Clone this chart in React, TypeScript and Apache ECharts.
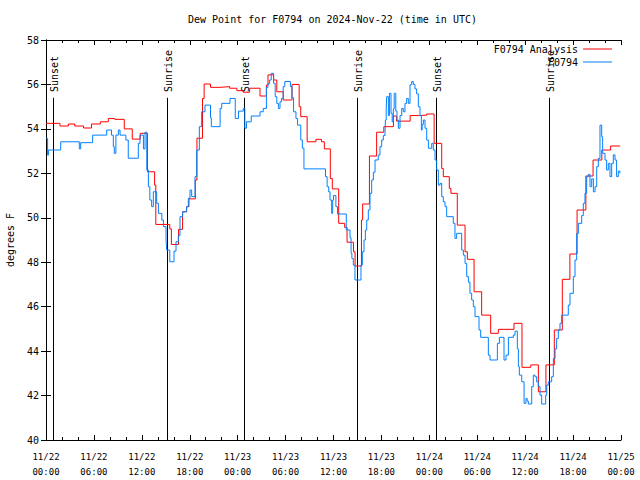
import React, { useEffect, useRef } from 'react';
import * as echarts from 'echarts';

const TITLE = 'Dew Point for F0794 on 2024-Nov-22 (time in UTC)';
const Y_NAME = 'degrees F';
const START_UTC = Date.UTC(2024, 10, 22, 0, 0);
const X_MIN_H = 0;
const X_MAX_H = 72;
const X_STEP_H = 6;
const Y_MIN = 40;
const Y_MAX = 58;
const Y_STEP = 2;

const SERIES_RED = 'F0794 Analysis';
const SERIES_BLUE = 'F0794';

// [hours since 2024-11-22 00:00 UTC, dew point °F]
const redPoints: [number, number][] = [
  [0, 54.25], [1.75, 54.13], [2.8, 54.22], [3.6, 54.13], [4.7, 54.04], [5.7, 54.22],
  [6.8, 54.32], [7.8, 54.47], [8.6, 54.43], [9.8, 54.0], [10.8, 53.54], [11.8, 53.8],
  [12.7, 52.07], [13.6, 51.47], [13.75, 49.7], [15.5, 49.5], [15.7, 48.8], [16.6, 49.48],
  [17.1, 50.27], [17.6, 50.5], [17.9, 50.85], [18.7, 51.7], [18.9, 53.58], [19.6, 55.37],
  [19.8, 56.02], [20.6, 55.87], [21.8, 55.9], [23.0, 55.83], [23.9, 55.72], [24.7, 55.65],
  [25.5, 55.83], [26.8, 55.48], [27.6, 55.97], [27.8, 56.43], [28.5, 56.2], [28.9, 55.67],
  [29.7, 55.3], [30.8, 56.0], [31.7, 55.0], [31.9, 54.55], [32.7, 53.42], [33.8, 53.53],
  [34.5, 53.42], [34.85, 53.1], [35.6, 51.77], [35.85, 51.3], [36.65, 49.75], [37.4, 49.57],
  [37.7, 48.9], [38.5, 48.47], [38.7, 47.83], [39.5, 49.9], [39.65, 50.62], [40.5, 52.78],
  [41.4, 53.85], [42.3, 54.1], [43.5, 54.58], [43.9, 54.35], [45.6, 54.6], [46.8, 54.62],
  [47.67, 54.67], [48.6, 53.35], [49.55, 52.22], [49.75, 51.85], [50.5, 51.32], [50.7, 51.1],
  [51.5, 49.67], [52.47, 48.47], [52.76, 48.13], [53.6, 46.67], [54.55, 45.62], [55.68, 44.8],
  [56.64, 44.98], [58.6, 45.25], [59.6, 43.27], [60.7, 43.38], [61.65, 42.17], [62.6, 43.38],
  [63.65, 44.95], [64.65, 47.23], [65.6, 48.37], [66.5, 50.35], [67.6, 51.88], [68.5, 52.6],
  [69.6, 53.05], [70.7, 53.23], [71.9, 53.2]
];

const bluePoints: [number, number][] = [
  [0.0, 53.58], [0.2, 52.82], [0.3, 53.05], [1.84, 53.42], [4.17, 53.1], [4.34, 53.38],
  [5.84, 53.72], [7.6, 53.95], [8.2, 53.72], [8.43, 53.2], [8.55, 52.9], [8.75, 53.72],
  [9.06, 53.95], [9.27, 53.72], [10.0, 53.5], [10.3, 52.68], [11.56, 53.35], [11.77, 53.72],
  [12.2, 53.1], [12.4, 53.85], [12.62, 52.15], [12.82, 51.4], [13.0, 50.8], [13.23, 50.5],
  [13.44, 51.17], [13.86, 50.65], [14.07, 50.2], [14.5, 49.9], [14.7, 49.6], [15.03, 49.0],
  [15.11, 48.55], [15.5, 48.02], [16.03, 48.5], [16.28, 48.92], [16.57, 49.2], [16.78, 50.05],
  [17.11, 50.27], [17.61, 50.5], [17.82, 50.88], [18.03, 51.25], [18.24, 50.95], [18.66, 51.85],
  [18.87, 53.05], [19.2, 54.1], [19.49, 54.77], [19.91, 55.07], [20.6, 54.5], [20.7, 54.1],
  [21.8, 54.92], [22.0, 55.15], [23.04, 55.37], [23.7, 54.47], [24.1, 54.8], [24.7, 54.92],
  [24.9, 54.03], [25.1, 54.32], [25.7, 54.58], [26.8, 54.77], [27.2, 54.92], [27.6, 55.87],
  [27.8, 56.03], [28.0, 56.2], [28.2, 56.5], [28.5, 56.05], [28.7, 55.45], [28.9, 55.15],
  [29.1, 54.92], [29.3, 55.22], [29.5, 55.37], [29.7, 55.9], [29.9, 56.13], [30.6, 55.9],
  [30.8, 55.4], [31.0, 54.77], [31.3, 54.47], [31.5, 54.17], [31.9, 53.5], [32.1, 53.13],
  [32.3, 52.2], [35.0, 51.85], [35.2, 51.4], [35.4, 51.17], [35.56, 50.8], [35.77, 50.2],
  [35.9, 50.8], [36.0, 51.0], [36.3, 50.5], [36.5, 50.17], [37.6, 49.45], [38.07, 49.1],
  [38.2, 48.4], [38.3, 48.17], [38.48, 47.87], [38.69, 47.2], [39.44, 47.87], [39.61, 48.47],
  [39.82, 49.0], [39.99, 49.45], [40.16, 49.9], [40.36, 50.35], [40.57, 51.1], [40.78, 51.7],
  [40.99, 52.05], [41.2, 52.6], [41.6, 52.82], [41.82, 53.2], [42.03, 53.5], [42.24, 53.7],
  [42.45, 53.85], [42.5, 54.4], [42.6, 54.9], [42.66, 55.45], [42.87, 54.6], [43.0, 55.6],
  [43.2, 54.7], [43.35, 54.32], [43.49, 54.9], [43.6, 55.6], [43.8, 54.8], [43.95, 54.4],
  [44.12, 54.03], [44.33, 54.6], [44.54, 54.92], [44.74, 54.77], [44.95, 55.15], [45.16, 55.37],
  [45.37, 55.15], [45.58, 55.98], [45.79, 56.13], [45.99, 56.0], [46.2, 55.8], [46.41, 55.58],
  [46.62, 55.0], [46.83, 54.6], [47.0, 53.95], [47.1, 54.2], [47.25, 54.4], [47.46, 54.03],
  [47.67, 53.5], [47.88, 53.13], [48.3, 53.35], [48.5, 53.05], [48.71, 52.6], [48.92, 52.15],
  [49.13, 51.47], [49.34, 51.55], [49.55, 50.95], [49.75, 50.72], [49.96, 50.5], [50.17, 50.05],
  [51.0, 49.75], [51.21, 49.07], [51.42, 49.3], [52.05, 48.55], [52.26, 48.32], [52.47, 47.95],
  [52.68, 47.35], [52.89, 47.1], [53.09, 46.6], [53.3, 46.3], [53.51, 46.0], [53.72, 45.55],
  [54.22, 44.95], [54.43, 44.62], [55.39, 43.82], [55.6, 43.6], [56.52, 44.35], [56.77, 44.62],
  [57.35, 43.6], [57.6, 43.82], [57.9, 44.62], [58.52, 44.72], [58.73, 44.9], [59.02, 44.1],
  [59.15, 43.3], [59.27, 42.92], [59.57, 42.62], [59.86, 41.65], [60.1, 41.87], [60.25, 41.75],
  [60.4, 41.62], [60.82, 42.4], [61.02, 42.92], [61.23, 42.85], [61.44, 42.62], [61.65, 42.4],
  [61.86, 42.02], [62.07, 41.62], [62.57, 42.02], [62.7, 42.47], [62.9, 42.62], [63.32, 42.85],
  [63.53, 43.67], [63.74, 44.1], [63.94, 44.57], [64.15, 44.95], [64.36, 45.25], [64.57, 45.62],
  [65.4, 46.07], [65.61, 46.6], [66.03, 47.35], [66.24, 48.1], [66.45, 49.3], [66.66, 49.75],
  [67.08, 50.1], [67.28, 50.65], [67.49, 51.1], [67.7, 51.85], [67.91, 51.95], [68.12, 51.4],
  [68.33, 51.75], [68.54, 51.17], [68.75, 51.4], [68.96, 52.3], [69.16, 52.67], [69.37, 54.17],
  [69.58, 53.65], [69.7, 52.9], [70.0, 52.6], [70.2, 52.15], [70.41, 52.45], [70.62, 51.85],
  [70.83, 52.45], [71.04, 52.83], [71.25, 52.6], [71.45, 51.85], [71.66, 52.1], [71.87, 52.0]
];

// sunset / sunrise times, hours since start
const sunHours = [0.84, 15.11, 24.83, 38.98, 48.87, 63.02];
const sunLabels = ['Sunset', 'Sunrise', 'Sunset', 'Sunrise', 'Sunset', 'Sunrise'];

const FONT = 'DejaVu Sans Mono';
const SUN_LINE_TOP = 55.4;
const SUN_LABEL_START = 55.66;

function fmtTick(h: number): string {
  const d = new Date(START_UTC + h * 3600000);
  const p = (n: number) => String(n).padStart(2, '0');
  return `${p(d.getUTCMonth() + 1)}/${p(d.getUTCDate())}\n${p(d.getUTCHours())}:${p(d.getUTCMinutes())}`;
}

export default function App() {
  const ref = useRef<HTMLDivElement>(null);
  useEffect(() => {
    if (!ref.current) return;
    const chart = echarts.init(ref.current, undefined, { renderer: 'svg' });
    const black = '#000000';
    const tickCommon = {
      axisLine: { show: true, lineStyle: { color: black, width: 1 } },
      axisTick: { show: true, inside: true, length: 5, lineStyle: { color: black, width: 1 } },
      splitLine: { show: false },
    };
    const xCommon: any = {
      type: 'value',
      min: X_MIN_H,
      max: X_MAX_H,
      interval: X_STEP_H,
      ...tickCommon,
      minorTick: { show: true, splitNumber: 3, length: 3, lineStyle: { color: black, width: 1 } },
      minorSplitLine: { show: false },
    };
    const yCommon: any = {
      type: 'value',
      min: Y_MIN,
      max: Y_MAX,
      interval: Y_STEP,
      ...tickCommon,
    };
    chart.setOption({
      animation: false,
      backgroundColor: '#ffffff',
      title: {
        text: TITLE,
        left: 188,
        top: 14,
        padding: 0,
        textStyle: { fontFamily: FONT, fontSize: 10, fontWeight: 'normal', color: black },
      },
      legend: [
        {
          data: [SERIES_RED],
          right: 28,
          top: 44,
          padding: 0,
          orient: 'vertical',
          align: 'right',
          icon: 'rect',
          itemWidth: 29,
          itemHeight: 1,
          selectedMode: false,
          textStyle: { fontFamily: FONT, fontSize: 10, color: black },
        },
        {
          data: [SERIES_BLUE],
          right: 28,
          top: 57,
          padding: 0,
          orient: 'vertical',
          align: 'right',
          icon: 'rect',
          itemWidth: 29,
          itemHeight: 1,
          selectedMode: false,
          textStyle: { fontFamily: FONT, fontSize: 10, color: black },
        },
      ],
      grid: { left: 46, right: 19, top: 40, bottom: 40, containLabel: false, outerBoundsMode: 'none' },
      xAxis: [
        {
          ...xCommon,
          position: 'bottom',
          axisLabel: {
            formatter: fmtTick,
            color: black,
            fontFamily: FONT,
            fontSize: 9,
            lineHeight: 15,
            margin: 9,
          },
        },
        { ...xCommon, position: 'top', axisLabel: { show: false } },
      ],
      yAxis: [
        {
          ...yCommon,
          position: 'left',
          name: Y_NAME,
          nameLocation: 'middle',
          nameGap: 31,
          nameRotate: 90,
          nameTextStyle: { fontFamily: FONT, fontSize: 10, color: black },
          axisLabel: { color: black, fontFamily: FONT, fontSize: 10, margin: 7 },
        },
        { ...yCommon, position: 'right', axisLabel: { show: false } },
      ],
      series: [
        {
          name: SERIES_RED,
          type: 'line',
          step: 'end',
          data: redPoints,
          symbol: 'none',
          color: '#ff0000',
          lineStyle: { color: '#ff0000', width: 1 },
          xAxisIndex: 0,
          yAxisIndex: 0,
        },
        {
          name: SERIES_BLUE,
          type: 'line',
          step: 'end',
          data: bluePoints,
          symbol: 'none',
          color: '#0080ff',
          lineStyle: { color: '#0080ff', width: 1 },
          xAxisIndex: 0,
          yAxisIndex: 0,
        },
        {
          name: 'sun',
          type: 'custom',
          xAxisIndex: 0,
          yAxisIndex: 0,
          data: sunHours.map((h) => [h, Y_MIN]),
          encode: { x: 0, y: 1 },
          silent: true,
          renderItem: (params: any, api: any) => {
            const h = api.value(0);
            const pBot = api.coord([h, Y_MIN]);
            const yTop = api.coord([h, SUN_LINE_TOP])[1];
            const yTxt = api.coord([h, SUN_LABEL_START])[1];
            const x = Math.round(pBot[0]) + 0.5;
            return {
              type: 'group',
              children: [
                {
                  type: 'line',
                  shape: { x1: x, y1: yTop, x2: x, y2: pBot[1] },
                  style: { stroke: black, lineWidth: 1 },
                },
                {
                  type: 'text',
                  x: x + 1,
                  y: yTxt,
                  rotation: Math.PI / 2,
                  style: {
                    text: sunLabels[params.dataIndex],
                    fill: black,
                    font: `10px "${FONT}"`,
                    align: 'left',
                    verticalAlign: 'middle',
                  },
                },
              ],
            };
          },
        },
      ],
    });
    return () => chart.dispose();
  }, []);
  return (
    <div
      ref={ref}
      style={{ position: 'fixed', left: 0, top: 0, width: 640, height: 480, background: '#fff' }}
    />
  );
}
